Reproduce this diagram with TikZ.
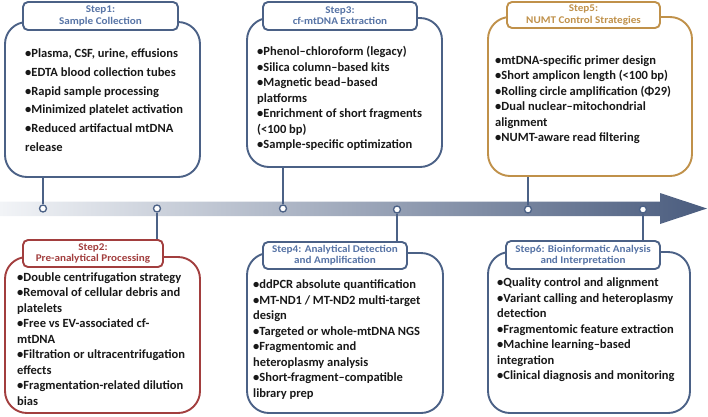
\documentclass[tikz,border=0pt]{standalone}
\usepackage{fontspec}
\setmainfont{Carlito}
\newfontfamily\tabfont[FakeStretch=1.08]{Carlito}
\usetikzlibrary{positioning}
\definecolor{stepblue}{HTML}{4B6186}
\definecolor{tabblue}{HTML}{5774A6}
\definecolor{stepred}{HTML}{A23E3E}
\definecolor{stepgold}{HTML}{C0914A}
\definecolor{bandlight}{HTML}{F2F4F7}
\definecolor{banddark}{HTML}{4A5C7E}

\begin{document}
\begin{tikzpicture}[
  x=1pt, y=-1pt,
  stepbox/.style={draw, line width=1.9pt, rounded corners=22pt, fill=white},
  steptab/.style={draw, line width=1.9pt, rounded corners=5pt, fill=white, align=center,
    font=\tabfont\bfseries\fontsize{10.3}{11.3}\selectfont, inner sep=0pt},
  steptext/.style={anchor=west, align=left, inner sep=0pt, text=black!90,
    font=\bfseries\fontsize{12.5}{15.5}\selectfont},
  dot/.style={circle, draw=stepblue, fill=white, line width=1.3pt, inner sep=0pt,
    minimum size=7pt},
  link/.style={stepblue, line width=1.8pt}
]
  \useasboundingbox (0,0) rectangle (708,416);

  % Timeline arrow
  \shade[left color=bandlight, right color=banddark]
    (0,201.5) -- (660,201.5) -- (660,193) -- (707,208.5) -- (660,224)
    -- (660,216) -- (0,216) -- cycle;

  % Boxes
  \node[stepbox, draw=stepblue, minimum width=195pt, minimum height=155pt] (b1) at (102.5,99.5) {};
  \node[stepbox, draw=stepblue, minimum width=195pt, minimum height=149pt] (b3) at (344.5,92.5) {};
  \node[stepbox, draw=stepgold, minimum width=204pt, minimum height=159pt] (b5) at (590,96.5) {};
  \node[stepbox, draw=stepred, minimum width=195pt, minimum height=156pt] (b2) at (102.5,335) {};
  \node[stepbox, draw=stepblue, minimum width=196pt, minimum height=160pt] (b4) at (345,333) {};
  \node[stepbox, draw=stepblue, minimum width=202pt, minimum height=161pt] (b6) at (589,332.5) {};

  % Tabs
  \node[steptab, draw=stepblue, text=tabblue, minimum width=155pt, minimum height=28pt] (t1) at (100.5,16)
    {Step1:\\Sample Collection};
  \node[steptab, draw=stepblue, text=tabblue, minimum width=154pt, minimum height=28pt] (t3) at (340,16)
    {Step3:\\cf-mtDNA Extraction};
  \node[steptab, draw=stepgold, text=stepgold, minimum width=153pt, minimum height=26pt] (t5) at (583.5,15)
    {Step5:\\NUMT Control Strategies};
  \node[steptab, draw=stepred, text=stepred, minimum width=140pt, minimum height=27pt] (t2) at (93,253.5)
    {Step2:\\Pre-analytical Processing};
  \node[steptab, draw=stepblue, text=tabblue, minimum width=144pt, minimum height=27pt] (t4) at (335,255.5)
    {Step4: Analytical Detection\\and Amplification};
  \node[steptab, draw=stepblue, text=tabblue, minimum width=154pt, minimum height=28pt] (t6) at (583,255)
    {Step6: Bioinformatic Analysis\\and Interpretation};

  % Texts
  \node[steptext, font=\bfseries\fontsize{12.5}{18.7}\selectfont] (l1) at (25,100)
    {•Plasma, CSF, urine, effusions\\•EDTA blood collection tubes\\•Rapid sample processing\\
     •Minimized platelet activation\\•Reduced artifactual mtDNA\\release};
  \node[steptext] (l3) at (257,98.5)
    {•Phenol–chloroform (legacy)\\•Silica column–based kits\\•Magnetic bead–based\\platforms\\
     •Enrichment of short fragments\\(<100 bp)\\•Sample-specific optimization};
  \node[steptext] (l5) at (495,99.5)
    {•mtDNA-specific primer design\\•Short amplicon length (<100 bp)\\•Rolling circle amplification (Φ29)\\
     •Dual nuclear–mitochondrial\\alignment\\•NUMT-aware read filtering};
  \node[steptext] (l2) at (17,339)
    {•Double centrifugation strategy\\•Removal of cellular debris and\\platelets\\•Free vs EV-associated cf-\\mtDNA\\
     •Filtration or ultracentrifugation\\effects\\•Fragmentation-related dilution\\bias};
  \node[steptext] (l4) at (253,339.5)
    {•ddPCR absolute quantification\\•MT-ND1 / MT-ND2 multi-target\\design\\•Targeted or whole-mtDNA NGS\\
     •Fragmentomic and\\heteroplasmy analysis\\•Short-fragment–compatible\\library prep};
  \node[steptext] (l6) at (497,330)
    {•Quality control and alignment\\•Variant calling and heteroplasmy\\detection\\•Fragmentomic feature extraction\\
     •Machine learning–based\\integration\\•Clinical diagnosis and monitoring};

  % Markers on the timeline
  \node[dot] (c1) at (43,208.5) {};
  \node[dot] (c2) at (157,208.5) {};
  \node[dot] (c3) at (283,208.5) {};
  \node[dot] (c4) at (397,209.5) {};
  \node[dot] (c5) at (528,209.5) {};
  \node[dot] (c6) at (643,209.5) {};

  % Links
  \draw[link] (c1) -- (c1 |- b1.south);
  \draw[link] (c3) -- (c3 |- b3.south);
  \draw[link] (c5) -- (c5 |- b5.south);
  \draw[link] (c2) -- (c2 |- t2.north);
  \draw[link] (c4) -- (c4 |- t4.north);
  \draw[link] (c6) -- (c6 |- t6.north);

\end{tikzpicture}
\end{document}
